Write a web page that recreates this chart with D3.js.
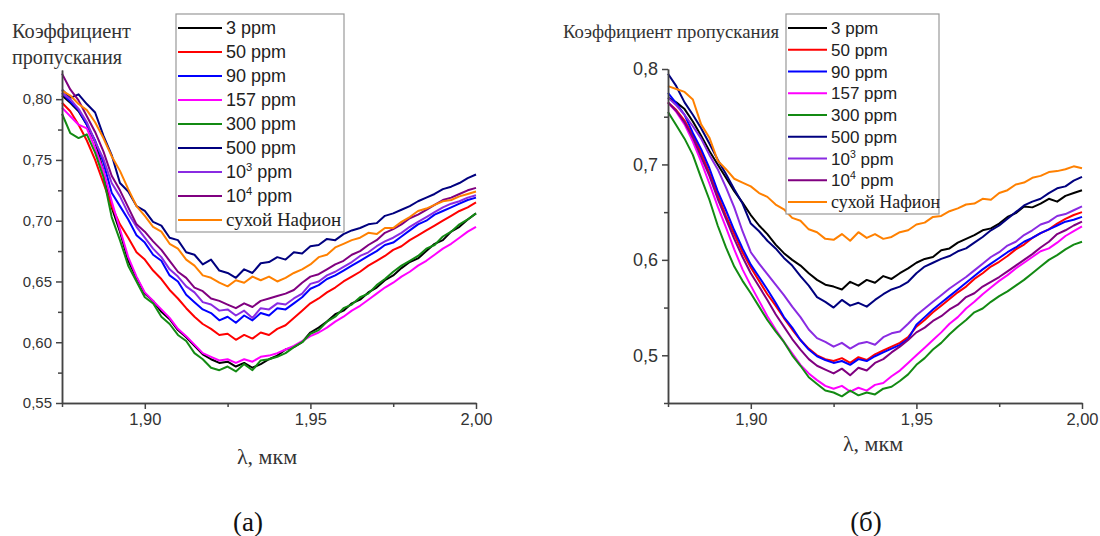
<!DOCTYPE html>
<html>
<head>
<meta charset="utf-8">
<script src="https://cdn.jsdelivr.net/npm/d3@7"></script>
<style>
  body { margin: 0; background: #fff; }
  svg { display: block; }
</style>
</head>
<body>
<svg id="chart" width="1100" height="536"></svg>
<script>
// wavelength grid, мкм
var wavelength = [1.875,1.8775,1.88,1.8825,1.885,1.8875,1.89,1.8925,1.895,1.8975,
  1.9,1.9025,1.905,1.9075,1.91,1.9125,1.915,1.9175,1.92,1.9225,
  1.925,1.9275,1.93,1.9325,1.935,1.9375,1.94,1.9425,1.945,1.9475,
  1.95,1.9525,1.955,1.9575,1.96,1.9625,1.965,1.9675,1.97,1.9725,
  1.975,1.9775,1.98,1.9825,1.985,1.9875,1.99,1.9925,1.995,1.9975,2.0];

var seriesNames = ["3 ppm", "50 ppm", "90 ppm", "157 ppm", "300 ppm", "500 ppm", "10^3 ppm", "10^4 ppm", "сухой Нафион"];
var seriesColors = ["#000000", "#ff0000", "#0000ff", "#ff00ff", "#138a13", "#00007f", "#8a2be2", "#800080", "#ff8000"];

// panel (а)
var a_3 = [0.803,0.797,0.790,0.779,0.765,0.741,0.711,0.691,0.667,0.653,
  0.640,0.634,0.625,0.619,0.610,0.604,0.597,0.590,0.586,0.583,
  0.584,0.580,0.583,0.579,0.582,0.586,0.589,0.594,0.596,0.600,
  0.608,0.612,0.617,0.623,0.626,0.632,0.635,0.641,0.645,0.651,
  0.655,0.661,0.666,0.669,0.675,0.681,0.684,0.691,0.695,0.701,0.706];
var a_50 = [0.797,0.790,0.779,0.766,0.750,0.731,0.712,0.697,0.686,0.674,
  0.668,0.659,0.652,0.643,0.636,0.628,0.621,0.615,0.611,0.606,
  0.607,0.602,0.606,0.603,0.608,0.606,0.611,0.614,0.620,0.626,
  0.632,0.636,0.641,0.645,0.650,0.654,0.658,0.663,0.667,0.671,
  0.676,0.679,0.684,0.688,0.692,0.696,0.700,0.704,0.708,0.711,0.715];
var a_90 = [0.805,0.798,0.791,0.779,0.766,0.748,0.723,0.712,0.701,0.688,
  0.682,0.672,0.667,0.655,0.650,0.639,0.633,0.627,0.624,0.618,
  0.621,0.616,0.622,0.618,0.624,0.622,0.628,0.627,0.632,0.637,
  0.644,0.647,0.652,0.655,0.659,0.663,0.667,0.671,0.675,0.680,
  0.682,0.687,0.692,0.697,0.700,0.705,0.708,0.711,0.714,0.717,0.719];
var a_157 = [0.793,0.786,0.779,0.776,0.760,0.741,0.716,0.693,0.670,0.654,
  0.641,0.634,0.627,0.620,0.611,0.605,0.598,0.591,0.588,0.585,
  0.586,0.583,0.586,0.584,0.588,0.589,0.591,0.594,0.597,0.601,
  0.605,0.608,0.612,0.617,0.621,0.626,0.630,0.635,0.640,0.645,
  0.649,0.654,0.658,0.663,0.667,0.672,0.677,0.681,0.686,0.691,0.695];
var a_300 = [0.788,0.772,0.768,0.771,0.756,0.736,0.703,0.684,0.663,0.650,
  0.637,0.632,0.621,0.615,0.606,0.601,0.591,0.586,0.579,0.577,
  0.580,0.576,0.582,0.577,0.585,0.586,0.588,0.591,0.596,0.600,
  0.607,0.610,0.617,0.621,0.628,0.631,0.637,0.640,0.647,0.652,
  0.658,0.663,0.667,0.671,0.677,0.680,0.687,0.691,0.697,0.701,0.706];
var a_500 = [0.808,0.801,0.804,0.796,0.789,0.770,0.754,0.731,0.724,0.712,
  0.708,0.699,0.696,0.686,0.684,0.674,0.672,0.664,0.668,0.659,
  0.657,0.653,0.660,0.657,0.665,0.666,0.670,0.668,0.674,0.673,
  0.679,0.680,0.685,0.684,0.689,0.692,0.694,0.697,0.698,0.704,
  0.706,0.709,0.712,0.716,0.719,0.722,0.726,0.728,0.731,0.735,0.738];
var a_1e3 = [0.805,0.800,0.792,0.781,0.765,0.751,0.731,0.720,0.706,0.695,
  0.686,0.677,0.670,0.660,0.654,0.646,0.641,0.633,0.631,0.626,
  0.627,0.622,0.626,0.620,0.628,0.627,0.632,0.631,0.636,0.640,
  0.648,0.650,0.655,0.658,0.662,0.666,0.671,0.674,0.679,0.683,
  0.686,0.690,0.695,0.699,0.703,0.707,0.711,0.714,0.716,0.719,0.721];
var a_1e4 = [0.821,0.808,0.799,0.786,0.773,0.757,0.737,0.725,0.711,0.697,
  0.691,0.683,0.676,0.667,0.658,0.653,0.645,0.642,0.636,0.634,
  0.631,0.628,0.632,0.629,0.634,0.636,0.638,0.640,0.643,0.649,
  0.654,0.656,0.660,0.664,0.667,0.672,0.675,0.680,0.684,0.690,
  0.693,0.697,0.702,0.705,0.709,0.713,0.717,0.719,0.722,0.725,0.727];
var a_dry = [0.807,0.803,0.796,0.791,0.781,0.768,0.753,0.741,0.726,0.712,
  0.704,0.695,0.691,0.681,0.677,0.668,0.663,0.655,0.653,0.649,
  0.646,0.651,0.649,0.654,0.651,0.654,0.650,0.653,0.657,0.660,
  0.664,0.670,0.672,0.678,0.681,0.684,0.686,0.690,0.689,0.694,
  0.694,0.699,0.703,0.708,0.710,0.713,0.716,0.717,0.720,0.722,0.724];

// panel (б)
var b_3 = [0.770,0.765,0.758,0.745,0.730,0.714,0.700,0.686,0.672,0.660,
  0.647,0.636,0.627,0.616,0.607,0.600,0.594,0.586,0.579,0.574,
  0.572,0.569,0.577,0.573,0.579,0.576,0.583,0.580,0.586,0.591,
  0.597,0.601,0.603,0.610,0.612,0.618,0.622,0.626,0.631,0.633,
  0.638,0.645,0.649,0.656,0.655,0.659,0.664,0.661,0.667,0.670,0.673];
var b_50 = [0.765,0.757,0.746,0.730,0.712,0.691,0.668,0.646,0.627,0.608,
  0.592,0.578,0.564,0.552,0.539,0.527,0.516,0.507,0.500,0.496,
  0.494,0.497,0.492,0.498,0.495,0.501,0.505,0.509,0.513,0.519,
  0.530,0.537,0.545,0.552,0.559,0.566,0.572,0.580,0.586,0.593,
  0.598,0.604,0.611,0.616,0.623,0.628,0.632,0.638,0.643,0.647,0.650];
var b_90 = [0.775,0.764,0.752,0.733,0.716,0.696,0.672,0.652,0.631,0.612,
  0.595,0.582,0.569,0.555,0.540,0.529,0.516,0.506,0.499,0.495,
  0.492,0.494,0.490,0.496,0.494,0.499,0.503,0.507,0.511,0.517,
  0.532,0.540,0.548,0.555,0.562,0.569,0.576,0.583,0.590,0.596,
  0.602,0.608,0.613,0.619,0.623,0.628,0.632,0.636,0.640,0.642,0.645];
var b_157 = [0.765,0.755,0.742,0.724,0.703,0.680,0.656,0.634,0.611,0.590,
  0.573,0.557,0.541,0.527,0.514,0.502,0.490,0.481,0.474,0.468,
  0.465,0.468,0.462,0.466,0.463,0.469,0.471,0.478,0.484,0.492,
  0.500,0.508,0.516,0.524,0.533,0.540,0.549,0.556,0.564,0.571,
  0.578,0.584,0.591,0.597,0.603,0.609,0.612,0.618,0.625,0.630,0.635];
var b_300 = [0.755,0.741,0.727,0.710,0.686,0.663,0.636,0.613,0.593,0.578,
  0.565,0.551,0.537,0.525,0.514,0.500,0.489,0.477,0.470,0.463,
  0.461,0.457,0.463,0.458,0.461,0.459,0.465,0.467,0.473,0.480,
  0.490,0.497,0.506,0.513,0.522,0.530,0.537,0.545,0.549,0.556,
  0.562,0.567,0.573,0.579,0.586,0.593,0.600,0.605,0.611,0.616,0.619];
var b_500 = [0.795,0.782,0.765,0.752,0.738,0.722,0.705,0.690,0.674,0.659,
  0.638,0.630,0.620,0.612,0.602,0.594,0.583,0.573,0.561,0.556,
  0.550,0.558,0.552,0.555,0.551,0.558,0.564,0.569,0.572,0.577,
  0.586,0.593,0.597,0.601,0.604,0.609,0.612,0.618,0.624,0.631,
  0.636,0.643,0.650,0.657,0.661,0.664,0.670,0.675,0.677,0.683,0.687];
var b_1e3 = [0.770,0.762,0.752,0.740,0.727,0.710,0.695,0.676,0.655,0.630,
  0.608,0.596,0.585,0.574,0.563,0.551,0.540,0.527,0.518,0.514,
  0.509,0.513,0.507,0.512,0.514,0.511,0.519,0.523,0.525,0.533,
  0.542,0.549,0.556,0.563,0.570,0.576,0.582,0.589,0.596,0.603,
  0.608,0.615,0.619,0.626,0.631,0.637,0.640,0.646,0.648,0.652,0.656];
var b_1e4 = [0.765,0.756,0.744,0.728,0.708,0.688,0.664,0.643,0.622,0.603,
  0.586,0.572,0.558,0.543,0.530,0.517,0.506,0.496,0.489,0.485,
  0.481,0.486,0.479,0.487,0.484,0.492,0.496,0.503,0.509,0.516,
  0.524,0.529,0.536,0.541,0.548,0.553,0.561,0.565,0.572,0.577,
  0.582,0.588,0.594,0.600,0.606,0.613,0.619,0.627,0.631,0.636,0.640];
var b_dry = [0.782,0.779,0.776,0.768,0.742,0.728,0.704,0.695,0.685,0.681,
  0.677,0.670,0.666,0.658,0.653,0.644,0.641,0.632,0.629,0.622,
  0.621,0.627,0.620,0.629,0.623,0.627,0.622,0.624,0.629,0.631,
  0.637,0.639,0.645,0.646,0.651,0.654,0.658,0.659,0.664,0.663,
  0.670,0.673,0.679,0.681,0.686,0.688,0.692,0.693,0.695,0.698,0.696];

var xTicks = [1.90, 1.95, 2.00];
var xMinor = [1.875, 1.925, 1.975];
var yTicksA = [0.55, 0.60, 0.65, 0.70, 0.75, 0.80];
var yMinorA = [0.575, 0.625, 0.675, 0.725, 0.775];
var yTicksB = [0.5, 0.6, 0.7, 0.8];
var yMinorB = [0.45, 0.55, 0.65, 0.75];

var svg = d3.select("#chart");
var axisColor = "#444";
var serif = "'Liberation Serif', 'Times New Roman', serif";
var sans = "'Liberation Sans', Arial, sans-serif";

function commaFmt(digits) {
    return function(d) { return d.toFixed(digits).replace(".", ","); };
}

function drawPanel(p) {
    var x = d3.scaleLinear().domain([1.875, 2.0]).range([p.left, p.right]);
    var y = d3.scaleLinear().domain(p.yDomain).range([p.bottom, p.top]);
    var g = svg.append("g");

    var line = d3.line()
        .x(function(d, i) { return x(wavelength[i]); })
        .y(function(d) { return y(d); });

    // curves
    p.series.forEach(function(s, i) {
        g.append("path")
            .datum(s)
            .attr("d", line)
            .attr("fill", "none")
            .attr("stroke", seriesColors[i])
            .attr("stroke-width", 2)
            .attr("stroke-linejoin", "round");
    });

    // axes
    g.append("g").attr("class", "xaxis").attr("transform", "translate(0," + p.bottom + ")")
        .call(d3.axisBottom(x).tickValues(xTicks).tickFormat(commaFmt(2)).tickSize(6).tickSizeOuter(0).tickPadding(4));
    g.append("g").attr("transform", "translate(0," + p.bottom + ")")
        .call(d3.axisBottom(x).tickValues(xMinor).tickFormat("").tickSize(4).tickSizeOuter(0));
    g.append("g").attr("class", "yaxis").attr("transform", "translate(" + p.left + ",0)")
        .call(d3.axisLeft(y).tickValues(p.yTicks).tickFormat(commaFmt(p.digits)).tickSize(6).tickSizeOuter(0).tickPadding(4));
    g.append("g").attr("transform", "translate(" + p.left + ",0)")
        .call(d3.axisLeft(y).tickValues(p.yMinor).tickFormat("").tickSize(4).tickSizeOuter(0));

    g.selectAll(".domain, .tick line").attr("stroke", axisColor).attr("stroke-width", 1.5);
    g.selectAll(".tick text").attr("fill", "#333").style("font-family", sans);
    g.selectAll(".xaxis .tick text").style("font-size", "16.5px");
    g.selectAll(".yaxis .tick text").style("font-size", p.yTickSize + "px");

    // titles
    p.title.forEach(function(t, i) {
        g.append("text")
            .attr("x", p.titleX).attr("y", p.titleY + i * 26)
            .attr("fill", "#333")
            .attr("textLength", p.titleLen[i]).attr("lengthAdjust", "spacingAndGlyphs")
            .style("font-family", serif)
            .style("font-size", p.titleSize + "px")
            .text(t);
    });
    g.append("text")
        .attr("x", (p.left + p.right) / 2 - 2).attr("y", p.xLabelY)
        .attr("text-anchor", "middle").attr("fill", "#333")
        .style("font-family", serif)
        .style("font-size", "22px")
        .text("λ, мкм");

    // legend
    var L = p.legend;
    g.append("rect")
        .attr("x", L.x).attr("y", L.y).attr("width", L.w).attr("height", L.h)
        .attr("fill", "#fff").attr("stroke", "#999").attr("stroke-width", 1.2);
    seriesNames.forEach(function(name, i) {
        var ry = L.rowY + i * L.step;
        g.append("line")
            .attr("x1", L.x + 2).attr("x2", L.x + L.sample)
            .attr("y1", ry).attr("y2", ry)
            .attr("stroke", seriesColors[i]).attr("stroke-width", 2.2);
        var t = g.append("text")
            .attr("x", L.x + L.sample + 4).attr("y", ry + 6)
            .attr("fill", "#222");
        if (name.indexOf("^") > 0) {
            var parts = name.split(/\^| /);
            t.style("font-family", sans).style("font-size", L.font + "px");
            t.append("tspan").text(parts[0]);
            t.append("tspan").attr("dy", -7).style("font-size", (L.font * 0.62) + "px").text(parts[1]);
            t.append("tspan").attr("dy", 7).text(" " + parts[2]);
        } else if (i === seriesNames.length - 1) {
            t.style("font-family", serif).style("font-size", (L.font + 1) + "px").text(name);
        } else {
            t.style("font-family", sans).style("font-size", L.font + "px").text(name);
        }
    });

    g.append("text")
        .attr("x", p.caption[0]).attr("y", p.caption[1])
        .attr("text-anchor", "middle").attr("fill", "#111")
        .style("font-family", serif)
        .style("font-size", "27px")
        .text(p.captionText);
}

drawPanel({
    left: 62, right: 476, top: 70, bottom: 403,
    yDomain: [0.55, 0.824], yTicks: yTicksA, yMinor: yMinorA, digits: 2, yTickSize: 15,
    series: [a_3, a_50, a_90, a_157, a_300, a_500, a_1e3, a_1e4, a_dry],
    title: ["Коэффициент", "пропускания"], titleLen: [119, 110], titleX: 12, titleY: 38, titleSize: 20,
    xLabelY: 464,
    legend: {x: 176, y: 14, w: 168, h: 218, rowY: 28, step: 24, sample: 46, font: 18},
    caption: [248, 531], captionText: "(а)"
});

drawPanel({
    left: 668, right: 1082, top: 69, bottom: 403,
    yDomain: [0.45, 0.80], yTicks: yTicksB, yMinor: yMinorB, digits: 1, yTickSize: 18,
    series: [b_3, b_50, b_90, b_157, b_300, b_500, b_1e3, b_1e4, b_dry],
    title: ["Коэффициент пропускания"], titleLen: [216], titleX: 563, titleY: 38, titleSize: 18.5,
    xLabelY: 451,
    legend: {x: 786, y: 14, w: 153, h: 200, rowY: 28, step: 21.75, sample: 41, font: 17},
    caption: [866, 531], captionText: "(б)"
});
</script>
</body>
</html>
